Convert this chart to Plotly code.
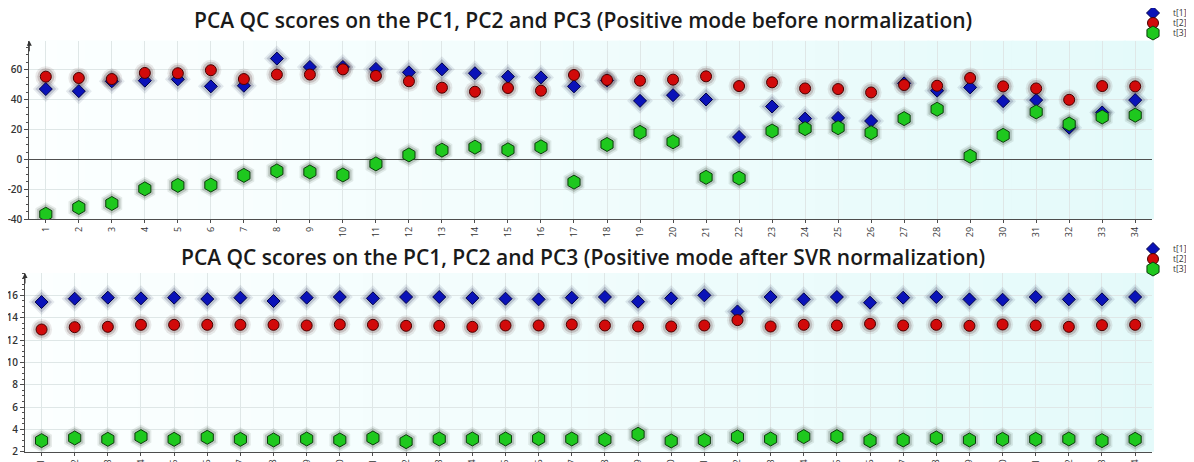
import plotly.graph_objects as go

# ---------------- data ----------------
samples = list(range(1, 35))
tick_labels = [str(i) for i in samples]
series_names = ["t[1]", "t[2]", "t[3]"]

before_t1 = [47.2, 45.8, 52.4, 52.8, 53.7, 49.0, 49.4, 67.6, 62.0, 62.0, 60.7,
             58.4, 60.4, 57.8, 55.5, 55.0, 49.0, 53.0, 39.3, 43.1, 40.2, 15.1,
             35.5, 27.4, 27.9, 25.8, 51.0, 46.1, 48.3, 39.1, 39.8, 21.3, 31.5, 39.8]
before_t2 = [55.5, 54.6, 53.9, 58.0, 57.8, 59.8, 53.9, 56.9, 56.9, 60.4, 56.0,
             52.4, 48.1, 45.4, 47.9, 46.1, 56.6, 53.3, 52.8, 53.5, 55.7, 49.2,
             51.7, 47.6, 47.2, 44.9, 49.9, 49.4, 54.6, 49.0, 47.6, 40.0, 49.2, 49.0]
before_t3 = [-36.6, -32.1, -29.4, -19.6, -17.3, -17.1, -10.6, -7.6, -8.3, -10.3, -2.9,
             3.1, 6.3, 8.3, 6.5, 8.5, -15.1, 10.1, 18.2, 11.9, -11.9, -12.4,
             19.1, 20.7, 21.3, 18.0, 27.4, 33.7, 2.2, 16.2, 31.9, 23.8, 28.5, 29.7]

after_t1 = [15.40, 15.70, 15.79, 15.73, 15.79, 15.67, 15.79, 15.49, 15.79, 15.85, 15.73,
            15.85, 15.85, 15.76, 15.70, 15.64, 15.79, 15.85, 15.43, 15.73, 16.00, 14.56,
            15.85, 15.64, 15.85, 15.34, 15.79, 15.85, 15.64, 15.61, 15.85, 15.64, 15.64, 15.85]
after_t2 = [12.94, 13.15, 13.18, 13.36, 13.36, 13.36, 13.36, 13.36, 13.30, 13.39, 13.36,
            13.27, 13.27, 13.18, 13.30, 13.30, 13.39, 13.30, 13.21, 13.21, 13.30, 13.78,
            13.21, 13.36, 13.30, 13.45, 13.30, 13.36, 13.27, 13.39, 13.30, 13.18, 13.33, 13.36]
after_t3 = [2.99, 3.23, 3.11, 3.35, 3.11, 3.29, 3.11, 3.05, 3.14, 3.05, 3.23,
            2.90, 3.14, 3.14, 3.14, 3.17, 3.14, 3.08, 3.56, 2.96, 3.02, 3.32,
            3.14, 3.35, 3.35, 2.99, 3.05, 3.23, 3.05, 3.11, 3.11, 3.14, 2.99, 3.11]

title_top = "PCA QC scores on the PC1, PC2 and PC3 (Positive mode before normalization)"
title_bottom = "PCA QC scores on the PC1, PC2 and PC3 (Positive mode after SVR normalization)"

top_yticks = [-40, -20, 0, 20, 40, 60]
top_ytick_labels = ["-40", "-20", "0", "20", "40", "60"]
bottom_yticks = [2, 4, 6, 8, 10, 12, 14, 16]
bottom_ytick_labels = ["2", "4", "6", "8", "10", "12", "14", "16"]

# ---------------- styles ----------------
styles = [
    dict(symbol="diamond", size=10, color="#0a12b8", line="#00004a",
         halo="rgba(40,45,90,{a})"),
    dict(symbol="circle", size=11, color="#d10a0a", line="#4a0000",
         halo="rgba(80,40,40,{a})"),
    dict(symbol="hexagon", size=14, color="#1ec81e", line="#0b3d0b",
         halo="rgba(40,60,40,{a})"),
]

fig = go.Figure()

panels = [
    ("x", "y", [before_t1, before_t2, before_t3], ["legend", "legend2", "legend3"]),
    ("x2", "y2", [after_t1, after_t2, after_t3], ["legend4", "legend5", "legend6"]),
]

for xa, ya, series, legends in panels:
    # halo (glow) layers
    for vals, st in zip(series, styles):
        for extra, alpha in [(10, 0.10), (6, 0.20)]:
            fig.add_trace(go.Scatter(
                x=samples, y=vals, mode="markers", xaxis=xa, yaxis=ya,
                showlegend=False, hoverinfo="skip",
                marker=dict(symbol=st["symbol"], size=st["size"] + extra,
                            color=st["halo"].format(a=alpha),
                            line=dict(width=0)),
            ))
    for vals, st, name, lg in zip(series, styles, series_names, legends):
        fig.add_trace(go.Scatter(
            x=samples, y=vals, mode="markers", name=name, xaxis=xa, yaxis=ya,
            legend=lg,
            marker=dict(symbol=st["symbol"], size=st["size"], color=st["color"],
                        line=dict(color=st["line"], width=1)),
        ))

W, H = 1194, 462
OFF = 8  # page body margin of the browser


def px_x(p):
    return (p - OFF) / W


def px_y(p):
    return 1 - (p - OFF) / H


grid_col = "#dfe7e7"
axis_col = "#4d4d4d"
tick_font = dict(family="Open Sans, DejaVu Sans", size=9, color="#333333")

common_x = dict(
    range=[0.5, 34.5], tickmode="array", tickvals=samples, ticktext=tick_labels,
    tickangle=-90, showgrid=True, gridcolor=grid_col, gridwidth=1,
    showline=True, linecolor=axis_col, linewidth=1, ticks="outside",
    ticklen=3, tickcolor=axis_col, tickfont=tick_font, zeroline=False,
    automargin=False, fixedrange=True,
)
common_y = dict(
    showgrid=True, gridcolor=grid_col, gridwidth=1, showline=True,
    linecolor=axis_col, linewidth=1, ticks="outside", ticklen=4,
    tickcolor=axis_col, tickfont=dict(family="Open Sans, DejaVu Sans", size=10,
                                      color="#333333", weight=600),
    automargin=False, fixedrange=True,
)

fig.update_layout(
    width=W, height=H,
    margin=dict(l=0, r=0, t=0, b=0, autoexpand=False),
    paper_bgcolor="white", plot_bgcolor="#f1fcfc",
    template="none",
    xaxis=dict(common_x, domain=[px_x(29.3), px_x(1151.7)], anchor="y"),
    yaxis=dict(common_y, domain=[px_y(219.3), px_y(40.8)], anchor="x",
               range=[-40, 79.5], tickmode="array", tickvals=top_yticks,
               ticktext=top_ytick_labels,
               zeroline=True, zerolinecolor="#505050", zerolinewidth=1,
               minor=dict(ticks="outside", ticklen=2, dtick=5, tickcolor=axis_col,
                          showgrid=False)),
    xaxis2=dict(common_x, domain=[px_x(25), px_x(1151.7)], anchor="y2"),
    yaxis2=dict(common_y, domain=[px_y(451.7), px_y(273)], anchor="x2",
                range=[2, 18], tickmode="array", tickvals=bottom_yticks,
                ticktext=bottom_ytick_labels,
                zeroline=False,
                minor=dict(ticks="outside", ticklen=2, dtick=0.5, tickcolor=axis_col,
                           showgrid=False)),
    showlegend=True,
)

# legends: one per entry to control spacing
leg_font = dict(family="Open Sans, DejaVu Sans", size=8.5, color="#333333")
leg_pos = {
    "legend": 13, "legend2": 23, "legend3": 33,
    "legend4": 249, "legend5": 259, "legend6": 269,
}
for lg, ypx in leg_pos.items():
    fig.update_layout({lg: dict(x=px_x(1133), xanchor="left", y=px_y(ypx),
                                yanchor="middle", bgcolor="rgba(0,0,0,0)",
                                borderwidth=0, font=leg_font,
                                itemclick=False, itemdoubleclick=False)})

# background gradient bands (left white-ish -> right light cyan)
shapes = []
n_bands = 40
c0 = (252, 255, 255)
c1 = (228, 250, 250)
for xr, yr in [("x domain", "y domain"), ("x2 domain", "y2 domain")]:
    for i in range(n_bands):
        t = (i + 0.5) / n_bands
        c = tuple(round(a + (b - a) * t) for a, b in zip(c0, c1))
        shapes.append(dict(type="rect", xref=xr, yref=yr,
                           x0=i / n_bands, x1=(i + 1) / n_bands + 0.002,
                           y0=0, y1=1, line=dict(width=0),
                           fillcolor="rgb(%d,%d,%d)" % c, layer="below"))
fig.update_layout(shapes=shapes)

title_font = dict(family="Open Sans, DejaVu Sans", size=21, color="#1a1a1a", weight=600)
annotations = [
    dict(text=title_top, xref="paper", yref="paper", x=px_x(583), y=px_y(20),
         xanchor="center", yanchor="middle", showarrow=False, font=title_font),
    dict(text=title_bottom, xref="paper", yref="paper", x=px_x(583), y=px_y(257),
         xanchor="center", yanchor="middle", showarrow=False, font=title_font),
]
for xr, yr in [("x domain", "y domain"), ("x2 domain", "y2 domain")]:
    annotations.append(dict(text="", xref=xr, yref=yr, x=0, y=1.0, ax=0, ay=12,
                            axref="pixel", ayref="pixel", showarrow=True,
                            arrowhead=2, arrowsize=1, arrowwidth=1,
                            arrowcolor="#333333"))
fig.update_layout(annotations=annotations)

fig.write_html("out.html")
